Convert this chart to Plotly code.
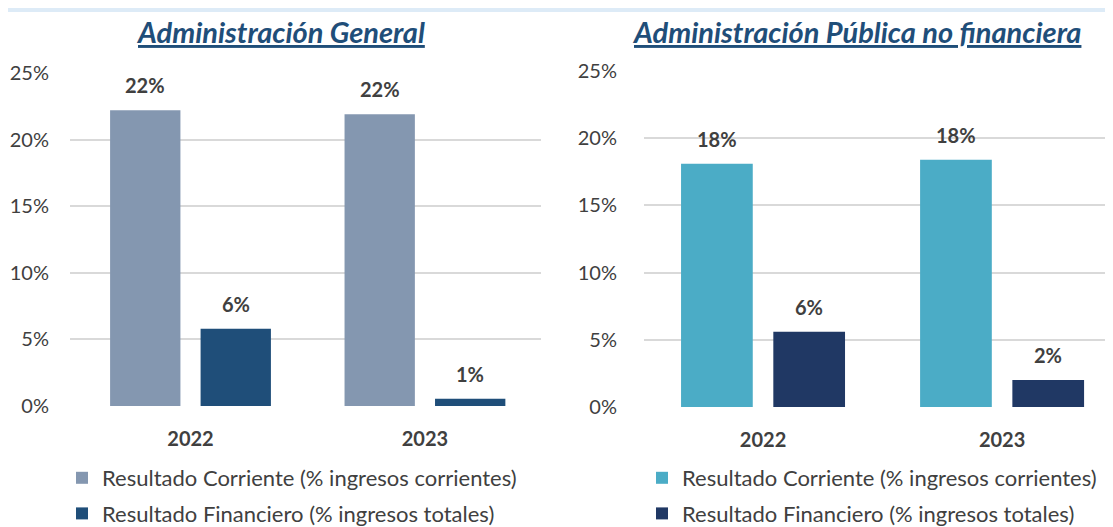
import plotly.graph_objects as go

years = ["2022", "2023"]
series_names = ["Resultado Corriente (% ingresos corrientes)",
                "Resultado Financiero (% ingresos totales)"]
ag_corriente = [22.2, 21.9]
ag_financiero = [5.8, 0.55]
apnf_corriente = [18.1, 18.4]
apnf_financiero = [5.6, 2.0]
y_ticks = [0, 5, 10, 15, 20, 25]

title_left = "Administración General"
title_right = "Administración Pública no financiera"

colors_left = ["#8497B0", "#1F4E79"]
colors_right = ["#4BACC6", "#203864"]

FONT = "Lato"
TXT = "#404040"
W, H = 1113, 527
OFF = 8  # page body offset of the plot div


def px(x):
    return (x - OFF) / W


def py(y):
    return 1 - (y - OFF) / H


BW = 0.30      # bar width (category units)
GAP = 0.086    # gap between bars of a group
offs = [-(BW + GAP / 2), GAP / 2]
centers = [o + BW / 2 for o in offs]
xpos = list(range(len(years)))

fig = go.Figure()

panels = [
    ("x", "y", [ag_corriente, ag_financiero], colors_left, "legend"),
    ("x2", "y2", [apnf_corriente, apnf_financiero], colors_right, "legend2"),
]

annotations = []
for xa, ya, data, cols, leg in panels:
    for k, (vals, col, name) in enumerate(zip(data, cols, series_names)):
        fig.add_trace(go.Bar(
            x=xpos, y=vals, name=name, width=BW, offset=offs[k],
            marker=dict(color=col, line=dict(width=0)),
            xaxis=xa, yaxis=ya, legend=leg, legendgroup=leg + str(k),
            hoverinfo="skip",
        ))
        for i, v in enumerate(vals):
            annotations.append(dict(
                x=i + centers[k], y=v, xref=xa, yref=ya,
                text=f"<b>{v:.0f}%</b>", showarrow=False,
                yanchor="middle", yshift=25,
                font=dict(family=FONT, size=20, color=TXT),
            ))

# titles
for txt, xc in [(title_left, 280), (title_right, 856.5)]:
    annotations.append(dict(
        x=px(xc), y=py(31), xref="paper", yref="paper",
        text=f"<b><i>{txt}</i></b>", showarrow=False,
        xanchor="center", yanchor="middle",
        font=dict(family=FONT, size=29, color="#1F4E79", lineposition="under"),
    ))


def yax(d0, d1, standoff, anchor):
    return dict(
        domain=[py(d0), py(d1)], range=[0, 25],
        tickvals=y_ticks, ticktext=[f"{t}%" for t in y_ticks], showgrid=True,
        gridcolor="#D9D9D9", gridwidth=2, zeroline=False, showline=False,
        ticks="", ticklabelstandoff=standoff, anchor=anchor, automargin=False,
        tickfont=dict(family=FONT, size=20, color=TXT),
    )


def xax(x0, x1, rng, anchor):
    return dict(
        domain=[px(x0), min(px(x1), 1)], range=rng,
        tickvals=xpos, ticktext=[f"<b>{y}</b>" for y in years],
        showgrid=False, zeroline=False, showline=False, ticks="",
        ticklabelstandoff=19, anchor=anchor, automargin=False,
        tickfont=dict(family=FONT, size=20, color=TXT),
    )


fig.update_layout(
    width=W, height=H, margin=dict(l=0, r=0, t=0, b=0),
    paper_bgcolor="white", plot_bgcolor="white",
    xaxis=xax(70, 541, [-0.514, 1.495], "y"),
    yaxis=yax(406, 73, 20, "x"),
    xaxis2=xax(644, 1113, [-0.498, 1.464], "y2"),
    yaxis2=yax(407, 71, 26, "x2"),
    annotations=annotations,
    showlegend=True,
    legend=dict(x=px(62), y=0, xanchor="left", yanchor="bottom",
                orientation="v", tracegroupgap=4, bgcolor="rgba(0,0,0,0)",
                font=dict(family=FONT, size=22, color=TXT)),
    legend2=dict(x=px(642), y=0, xanchor="left", yanchor="bottom",
                 orientation="v", tracegroupgap=4, bgcolor="rgba(0,0,0,0)",
                 font=dict(family=FONT, size=22, color=TXT)),
    shapes=[dict(type="rect", xref="paper", yref="paper", x0=0, x1=1,
                 y0=py(12), y1=1, fillcolor="#DDEBF7", line=dict(width=0),
                 layer="below")],
)

fig.write_html("out.html")
